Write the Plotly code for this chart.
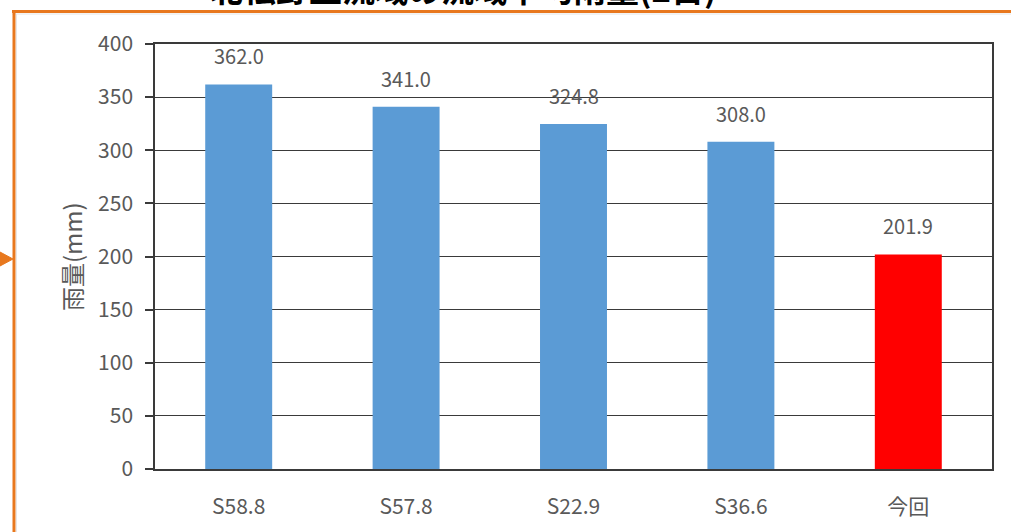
import plotly.graph_objects as go

# Basin-averaged 2-day rainfall for past events and the current event
categories = ["S58.8", "S57.8", "S22.9", "S36.6", "今回"]
rainfall_mm = [362.0, 341.0, 324.8, 308.0, 201.9]
bar_colors = ["#5B9BD5", "#5B9BD5", "#5B9BD5", "#5B9BD5", "#FF0000"]
y_ticks = [0, 50, 100, 150, 200, 250, 300, 350, 400]
title_text = "北松野上流域の流域平均雨量(2日)"
y_title = "雨量(mm)"

W, H = 1011, 532
L, R, T, B = 155, 19, 44, 63
plot_w, plot_h = W - L - R, H - T - B

def px_x(px):
    return (px - L) / plot_w

def px_y(py):
    return (H - B - py) / plot_h

label_font = "Noto Sans CJK JP, Noto Sans, sans-serif"
text_grey = "#595959"
frame_grey = "#3A3A3A"
orange = "#E8781E"

fig = go.Figure(
    go.Bar(
        x=categories,
        y=rainfall_mm,
        marker=dict(color=bar_colors, line=dict(width=0)),
        width=0.4,
        hoverinfo="x+y",
    )
)

# value labels above each bar
for cat, val in zip(categories, rainfall_mm):
    fig.add_annotation(
        x=cat, y=val, text=f"{val:.1f}", showarrow=False,
        yanchor="bottom", yshift=12,
        font=dict(family=label_font, size=20, color=text_grey),
    )

# y-axis title
fig.add_annotation(
    xref="paper", yref="paper", x=px_x(71), y=px_y(257),
    text=y_title, textangle=-90, showarrow=False,
    xanchor="center", yanchor="middle",
    font=dict(family=label_font, size=24, color=text_grey),
)

# chart title, partly clipped by the top edge
fig.add_annotation(
    xref="paper", yref="paper", x=px_x(463), y=px_y(-12),
    text=f"<b>{title_text}</b>", showarrow=False,
    xanchor="center", yanchor="middle",
    font=dict(family=label_font, size=33, color="#000000"),
)

# orange callout frame (top and left edges) with arrow pointing at it
fig.add_shape(type="line", xref="paper", yref="paper",
              x0=px_x(12), x1=px_x(1015), y0=px_y(11.5), y1=px_y(11.5),
              line=dict(color=orange, width=3), layer="above")
fig.add_shape(type="line", xref="paper", yref="paper",
              x0=px_x(14), x1=px_x(14), y0=px_y(10), y1=px_y(540),
              line=dict(color=orange, width=3), layer="above")
fig.add_shape(type="line", xref="paper", yref="paper",
              x0=px_x(12), x1=px_x(1015), y0=px_y(14), y1=px_y(14),
              line=dict(color="#E6E6E6", width=1), layer="below")
fig.add_shape(type="line", xref="paper", yref="paper",
              x0=px_x(16.5), x1=px_x(16.5), y0=px_y(14), y1=px_y(540),
              line=dict(color="#E6E6E6", width=1), layer="below")
fig.add_shape(type="path", xref="paper", yref="paper",
              path=(f"M {px_x(0)},{px_y(252)} L {px_x(13)},{px_y(259)} "
                    f"L {px_x(0)},{px_y(266)} Z"),
              fillcolor=orange, line=dict(color=orange, width=1), layer="above")

fig.update_layout(
    width=W, height=H,
    margin=dict(l=L, r=R, t=T, b=B, pad=0),
    paper_bgcolor="white", plot_bgcolor="white",
    showlegend=False, bargap=0.6,
    font=dict(family=label_font, color=text_grey),
    xaxis=dict(
        showline=True, linecolor=frame_grey, linewidth=1.5, mirror=True,
        showgrid=False, ticks="", ticklabelstandoff=18,
        tickfont=dict(family="Liberation Sans Narrow, Noto Sans CJK JP, sans-serif",
                      size=21, color=text_grey),
    ),
    yaxis=dict(
        range=[0, 400], tickvals=y_ticks,
        showline=True, linecolor=frame_grey, linewidth=1.5, mirror=True,
        showgrid=True, gridcolor=frame_grey, gridwidth=1.4,
        ticks="outside", ticklen=8, tickcolor=frame_grey, tickwidth=1.5,
        ticklabelstandoff=8, zeroline=False,
        tickfont=dict(family=label_font, size=21, color=text_grey),
    ),
)

fig.write_html("out.html")
